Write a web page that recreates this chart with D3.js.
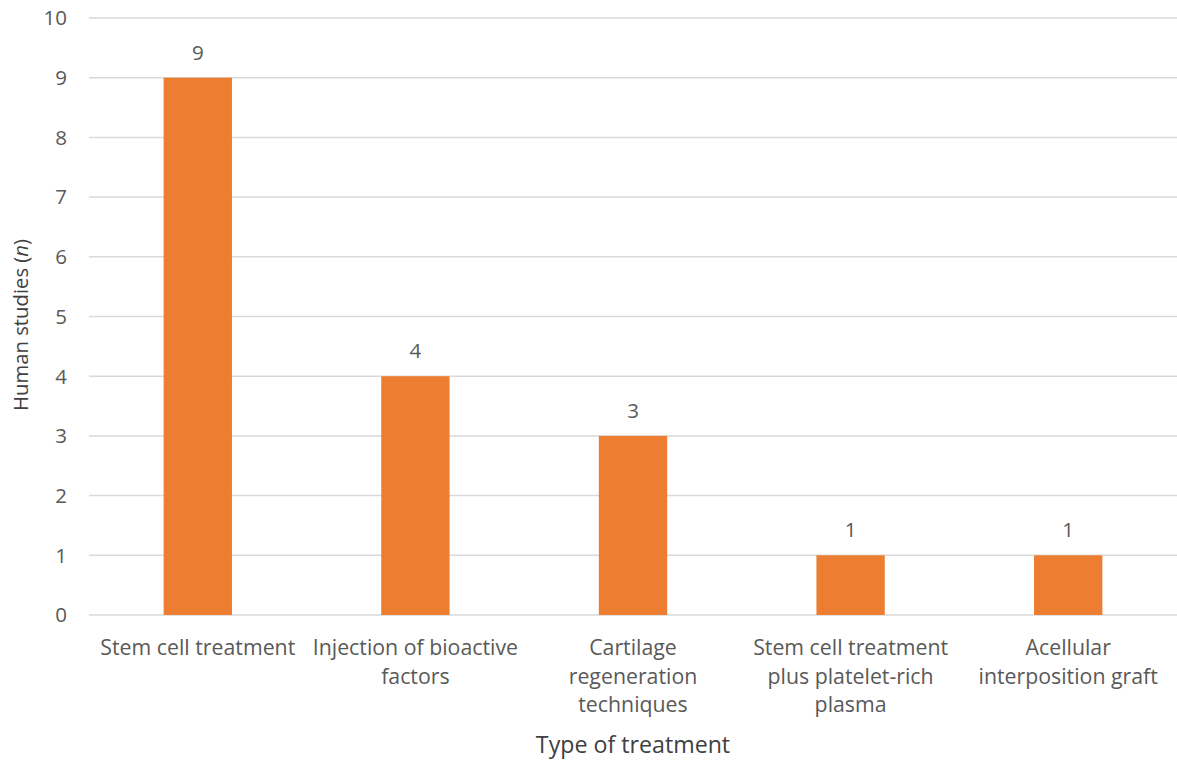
<!DOCTYPE html>
<html>
<head>
<meta charset="utf-8">
<script src="https://cdn.jsdelivr.net/npm/d3@7"></script>
<style>
  html, body { margin: 0; padding: 0; background: #fff; }
  svg text { font-family: "Open Sans", "Noto Sans", sans-serif; fill: #595959; }
</style>
</head>
<body>
<svg id="chart" width="1177" height="762"></svg>
<script>
// Number of human studies by type of treatment
const categories = [
  ["Stem cell treatment"],
  ["Injection of bioactive", "factors"],
  ["Cartilage", "regeneration", "techniques"],
  ["Stem cell treatment", "plus platelet-rich", "plasma"],
  ["Acellular", "interposition graft"]
];
const studies = [9, 4, 3, 1, 1];
const yTicks = [0, 1, 2, 3, 4, 5, 6, 7, 8, 9, 10];

const svg = d3.select("#chart");
const margin = { left: 89, right: 0, top: 18, bottom: 147 };
const W = 1177, H = 762;

const x = d3.scaleBand()
  .domain(d3.range(categories.length))
  .range([margin.left, W - margin.right])
  .paddingInner(0.686)
  .paddingOuter(0.343);

const y = d3.scaleLinear().domain([0, 10]).range([H - margin.bottom, margin.top]);

// gridlines
svg.append("g")
  .selectAll("line")
  .data(yTicks)
  .join("line")
  .attr("x1", margin.left)
  .attr("x2", W - margin.right)
  .attr("y1", d => y(d))
  .attr("y2", d => y(d))
  .attr("stroke", "#d9d9d9")
  .attr("stroke-width", 1.5);

// y tick labels
svg.append("g")
  .selectAll("text")
  .data(yTicks)
  .join("text")
  .attr("x", 67)
  .attr("y", d => y(d))
  .attr("dy", "0.36em")
  .attr("text-anchor", "end")
  .attr("font-size", 20.5)
  .text(d => d);

// bars
svg.append("g")
  .selectAll("rect")
  .data(studies)
  .join("rect")
  .attr("x", (d, i) => x(i))
  .attr("width", x.bandwidth())
  .attr("y", d => y(d))
  .attr("height", d => y(0) - y(d))
  .attr("fill", "#ED7D31");

// value labels
svg.append("g")
  .selectAll("text")
  .data(studies)
  .join("text")
  .attr("x", (d, i) => x(i) + x.bandwidth() / 2)
  .attr("y", d => y(d) - 18)
  .attr("text-anchor", "middle")
  .attr("font-size", 20.5)
  .text(d => d);

// category labels
const catG = svg.append("g")
  .selectAll("text")
  .data(categories)
  .join("text")
  .attr("x", (d, i) => x(i) + x.bandwidth() / 2)
  .attr("y", y(0) + 40)
  .attr("text-anchor", "middle")
  .attr("font-size", 21.3);
catG.selectAll("tspan")
  .data(d => d)
  .join("tspan")
  .attr("x", function () { return d3.select(this.parentNode).attr("x"); })
  .attr("dy", (d, i) => i === 0 ? 0 : 28.7)
  .text(d => d);

// axis titles
svg.append("text")
  .attr("x", 633)
  .attr("y", 753)
  .attr("text-anchor", "middle")
  .attr("font-size", 23.2)
  .style("fill", "#404040")
  .text("Type of treatment");

const yt = svg.append("text")
  .attr("transform", `translate(28, 325) rotate(-90)`)
  .attr("text-anchor", "middle")
  .attr("font-size", 20.3)
  .style("fill", "#404040");
yt.append("tspan").text("Human studies (");
yt.append("tspan").attr("font-style", "italic").text("n");
yt.append("tspan").text(")");
</script>
</body>
</html>
